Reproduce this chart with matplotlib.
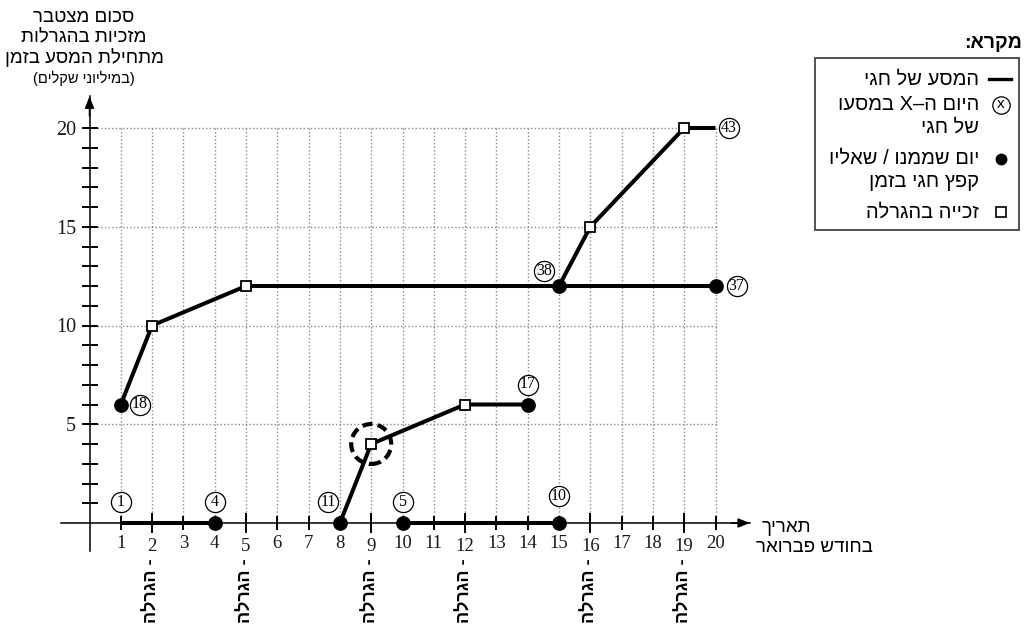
import matplotlib
matplotlib.use("Agg")
import matplotlib.pyplot as plt
from matplotlib.patches import Ellipse, Rectangle
from matplotlib.lines import Line2D
from matplotlib.ticker import FixedLocator, FixedFormatter, NullFormatter
import matplotlib.transforms as mtransforms

HEB = ["Liberation Sans", "DejaVu Sans"]
SERIF = ["Liberation Serif", "DejaVu Serif"]

# --- data -------------------------------------------------------------
days = list(range(1, 21))
draw_days = [2, 5, 9, 12, 16, 19]
y_major = [5, 10, 15, 20]

# Haggai's trip segments (day, cumulative winnings in millions)
seg1_x, seg1_y = [1, 4], [0, 0]
seg2_x, seg2_y = [8, 9, 12, 14], [0, 4, 6, 6]
seg3_x, seg3_y = [10, 15], [0, 0]
seg4_x, seg4_y = [1, 2, 5, 20], [6, 10, 12, 12]
seg5_x, seg5_y = [15, 16, 19, 20], [12, 15, 20, 20]

# jump points (filled dots)
jump_x = [4, 8, 14, 10, 15, 1, 20, 15]
jump_y = [0, 0, 6, 0, 0, 6, 12, 12]
# lottery wins (squares)
win_x = [9, 12, 2, 5, 16, 19]
win_y = [4, 6, 10, 12, 15, 20]

# day-of-trip numbers: value, anchor x, anchor y, offset (px)
trip_num = [1, 4, 11, 5, 10, 17, 18, 38, 37, 43]
trip_x = [1, 4, 8, 10, 15, 14, 1, 15, 20, 20]
trip_y = [0, 0, 0, 0, 0, 6, 6, 12, 12, 20]
trip_off = [(0, 21), (0, 21), (-12, 21), (0, 21), (0, 27), (0, 20),
            (19, 0), (-15, 15), (21, 0), (13, 0)]

highlight = (9, 4)


def rtl(s):
    """Visual (left-to-right) order for a Hebrew string."""
    mirror = {"(": ")", ")": "("}
    return "".join(mirror.get(c, c) for c in reversed(s))


# --- figure geometry --------------------------------------------------
W, H = 1029, 625
fig = plt.figure(figsize=(W / 100, H / 100), dpi=100)
xlim = (-0.9, 21.1)
ylim = (-1.4, 21.6)
px_x0, px_per_x = 89.5, 31.3
px_y0, px_per_y = 523.0, 19.75
left = px_x0 + xlim[0] * px_per_x
right = px_x0 + xlim[1] * px_per_x
bottom = px_y0 - ylim[0] * px_per_y
top = px_y0 - ylim[1] * px_per_y
ax = fig.add_axes([left / W, 1 - bottom / H, (right - left) / W, (bottom - top) / H])
ax.set_xlim(*xlim)
ax.set_ylim(*ylim)
ax.patch.set_visible(False)

for s in ("top", "right"):
    ax.spines[s].set_visible(False)
ax.spines["left"].set_position(("data", 0))
ax.spines["bottom"].set_position(("data", 0))
for s in ("left", "bottom"):
    ax.spines[s].set_linewidth(1.1)

# arrow heads
arrow = dict(arrowstyle="-|>,head_length=0.7,head_width=0.28", color="black",
             lw=1.1, shrinkA=0, shrinkB=0)
ax.annotate("", xy=(xlim[1], 0), xytext=(xlim[1] - 0.6, 0), arrowprops=arrow,
            annotation_clip=False)
ax.annotate("", xy=(0, ylim[1]), xytext=(0, ylim[1] - 1.0), arrowprops=arrow,
            annotation_clip=False)

# x ticks: long ones on draw days, short ones elsewhere
other_days = [d for d in days if d not in draw_days]
ax.xaxis.set_major_locator(FixedLocator(draw_days))
ax.xaxis.set_major_formatter(FixedFormatter([str(d) for d in draw_days]))
ax.xaxis.set_minor_locator(FixedLocator(other_days))
ax.xaxis.set_minor_formatter(FixedFormatter([str(d) for d in other_days]))
ax.tick_params(axis="x", which="major", direction="inout", length=14.4, width=1.4, pad=3.5)
ax.tick_params(axis="x", which="minor", direction="inout", length=10, width=1.4, pad=3.5)

ax.yaxis.set_major_locator(FixedLocator(y_major))
ax.yaxis.set_major_formatter(FixedFormatter([str(v) for v in y_major]))
ax.yaxis.set_minor_locator(FixedLocator([v for v in range(1, 21) if v not in y_major]))
ax.yaxis.set_minor_formatter(NullFormatter())
ax.tick_params(axis="y", which="both", direction="inout", length=11.5, width=1.4, pad=4)

for lab in ax.get_xticklabels(which="both"):
    lab.set_fontfamily(SERIF)
    lab.set_fontsize(13.5)
    lab.set_color("#1a1a1a")
for lab in ax.get_yticklabels():
    lab.set_fontfamily(SERIF)
    lab.set_fontsize(14.5)
    lab.set_color("#1a1a1a")

# dotted grid
grid_kw = dict(colors="#8a8a8a", linewidth=1.0, linestyles=(0, (1, 1.6)), zorder=1)
ax.vlines(days, 0, 20, **grid_kw)
ax.hlines(y_major, 0, 20, **grid_kw)

# trip path
for sx, sy in [(seg1_x, seg1_y), (seg2_x, seg2_y), (seg3_x, seg3_y),
               (seg4_x, seg4_y), (seg5_x, seg5_y)]:
    ax.plot(sx, sy, color="black", lw=2.9, solid_capstyle="butt", zorder=3)

ax.plot(jump_x, jump_y, "o", color="black", ms=9.6, zorder=4, clip_on=False)
ax.plot(win_x, win_y, "s", mfc="white", mec="black", mew=1.3, ms=7.8, zorder=5)

# circled trip-day numbers
for n, x, y, (dx, dy) in zip(trip_num, trip_x, trip_y, trip_off):
    tr = mtransforms.offset_copy(ax.transData, fig=fig, x=dx * 0.72, y=dy * 0.72,
                                 units="points")
    ax.plot([x], [y], "o", mfc="white", mec="black", mew=0.9, ms=14.5,
            transform=tr, zorder=6, clip_on=False)
    ax.text(x, y, str(n), transform=tr, ha="center", va="center",
            fontfamily=SERIF, fontsize=11.5, zorder=7)

# dashed ring around the highlighted win
r_px = 20
ax.add_patch(Ellipse(highlight, 2 * r_px / px_per_x, 2 * r_px / px_per_y,
                     fill=False, ec="black", lw=3.0, ls=(0, (2.4, 1.3)), zorder=6))

# lottery-day labels under the axis
for d in draw_days:
    ax.annotate(rtl("- הגרלה"), xy=(d, 0), xytext=(0, -35 * 0.72),
                textcoords="offset points", rotation=90, ha="center", va="top",
                fontfamily=HEB, fontsize=13, fontweight="bold", annotation_clip=False)

# axis titles
def ftext(px, py, s, **kw):
    fig.text(px / W, 1 - py / H, s, **kw)

ylab = ["סכום מצטבר", "מזכיות בהגרלות", "מתחילת המסע בזמן"]
for i, line in enumerate(ylab):
    ftext(84, 17 + i * 20.5, rtl(line), ha="center", va="center",
          fontfamily=HEB, fontsize=13.5)
ftext(84, 78, rtl("(במיליוני שקלים)"), ha="center", va="center",
      fontfamily=HEB, fontsize=10.5)

ftext(811, 527, rtl("תאריך"), ha="right", va="center", fontfamily=HEB, fontsize=13.5)
ftext(873, 548, rtl("בחודש פברואר"), ha="right", va="center", fontfamily=HEB, fontsize=13.5)

# legend
ftext(1022, 43, rtl("מקרא:"), ha="right", va="center", fontfamily=HEB,
      fontsize=14, fontweight="bold")
fig.patches.append(Rectangle((815 / W, 1 - 230 / H), (1019 - 815) / W, (230 - 58) / H,
                             transform=fig.transFigure, fill=False, ec="#333333", lw=1.2))
fig.lines.append(Line2D([989 / W, 1011 / W], [1 - 79 / H] * 2, transform=fig.transFigure,
                        color="black", lw=2.4))
fig.lines.append(Line2D([1001 / W], [1 - 105 / H], transform=fig.transFigure, marker="o",
                        mfc="white", mec="black", mew=0.9, ms=12.5))
ftext(1001, 104, "x", ha="center", va="center", fontfamily=HEB, fontsize=11)
fig.lines.append(Line2D([1001 / W], [1 - 159 / H], transform=fig.transFigure, marker="o",
                        color="black", ms=7.5))
fig.lines.append(Line2D([1001 / W], [1 - 212 / H], transform=fig.transFigure, marker="s",
                        mfc="white", mec="black", mew=1.2, ms=6.5))

leg_rows = [("המסע של חגי", 79), ("היום ה–X במסעו", 104), ("של חגי", 127),
            ("יום שממנו / שאליו", 158), ("קפץ חגי בזמן", 181), ("זכייה בהגרלה", 212)]
for s, py in leg_rows:
    ftext(979, py, rtl(s), ha="right", va="center", fontfamily=HEB, fontsize=14.5)

fig.savefig("out.png", dpi=100)
